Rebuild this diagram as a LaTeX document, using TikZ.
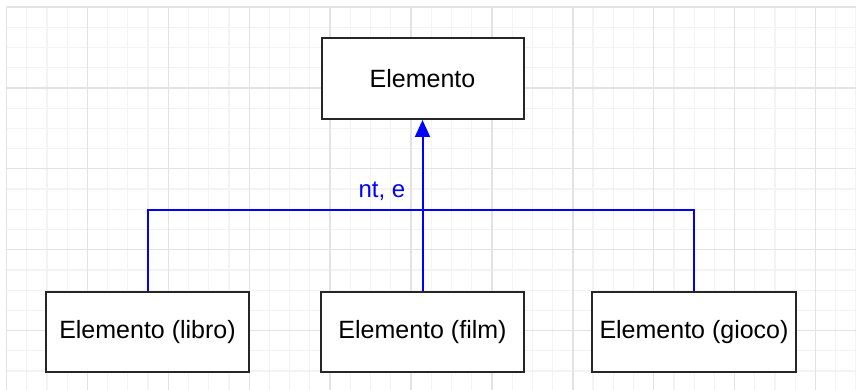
\documentclass[tikz,border=0pt]{standalone}
\usepackage{fontspec}
\setmainfont{Liberation Sans}
\usetikzlibrary{arrows.meta}
\definecolor{gridminor}{HTML}{F3F3F3}
\definecolor{gridmajor}{HTML}{E3E3E3}
\definecolor{linkblue}{HTML}{0000FF}
\tikzset{
  classbox/.style={draw=black!85, line width=2pt, fill=white, minimum height=80pt, inner sep=0pt,
    font=\fontsize{25}{30}\selectfont},
  link/.style={draw=linkblue, line width=2pt},
  linklabel/.style={text=linkblue, font=\fontsize{24}{29}\selectfont, inner sep=0pt}
}
\begin{document}
\begin{tikzpicture}[x=1pt,y=-1pt]
\useasboundingbox (0,0) rectangle (856,390);
\fill[white] (0,0) rectangle (856,390);
% grid
\foreach \k in {0,...,42} {
  \pgfmathsetmacro{\gx}{6.5+20.225*\k}
  \draw[gridminor, line width=1.2pt] (\gx,7) -- (\gx,390);
}
\foreach \k in {0,...,19} {
  \pgfmathsetmacro{\gy}{7+20.225*\k}
  \draw[gridminor, line width=1.2pt] (6.5,\gy) -- (856,\gy);
}
\foreach \k in {0,...,10} {
  \pgfmathsetmacro{\gx}{6.5+80.9*\k}
  \draw[gridmajor, line width=1.4pt] (\gx,7) -- (\gx,390);
}
\foreach \k in {0,...,4} {
  \pgfmathsetmacro{\gy}{7+80.9*\k}
  \draw[gridmajor, line width=1.4pt] (6.5,\gy) -- (856,\gy);
}
% nodes
\node[classbox, minimum width=202pt, minimum height=81pt] (top) at (422.5,78.5) {Elemento};
\node[classbox, minimum width=203pt] (libro) at (147.5,332) {Elemento (libro)};
\node[classbox, minimum width=203pt] (film) at (422.5,332) {Elemento (film)};
\node[classbox, minimum width=204pt] (gioco) at (694,332) {Elemento (gioco)};
% connectors
\coordinate (j) at (422.5,210);
\draw[link] (libro.north) |- (j) -| (gioco.north);
\draw[link, -{Triangle[length=17pt, width=15pt]}] (film.north) -- (top.south);
\node[linklabel] (lbl) at (382,191) {nt, e};
\end{tikzpicture}
\end{document}
